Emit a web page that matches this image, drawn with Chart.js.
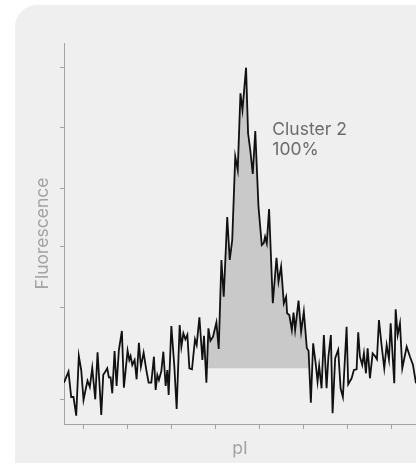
<!DOCTYPE html>
<html lang="en">
  <head>
    <meta charset="utf-8" />
    <title>Fluorescence vs pI</title>
    <script src="https://cdn.jsdelivr.net/npm/chart.js@4.4.0/dist/chart.umd.min.js"></script>
    <style>
      html, body { margin: 0; padding: 0; background: #fff; }
      .card {
        position: absolute; left: 15px; top: 5px;
        width: 430px; height: 458px;
        border-radius: 22px 22px 0 0; background: #efefef;
      }
      #chart { position: absolute; left: 0; top: 0; }
    </style>
  </head>
  <body>
    <div class="card"></div>
    <canvas id="chart" width="416" height="464"></canvas>
    <script>
      // trace: x along pI, y = fluorescence (arbitrary units)
      var xs = [0, 4.5, 7.2, 9.5, 12.2, 14.8, 17.2, 19.5, 21.5, 23.5,
        25.8, 28.2, 31.2, 33.5, 35.5, 37.2, 39.2, 41.5, 43.2, 44.8,
        46.5, 48.2, 50.5, 52.5, 54.8, 57.8, 59.8, 63.5, 65.2, 66.5,
        68.2, 70.5, 72.5, 74.8, 76.8, 79.5, 82.2, 84.5, 87.2, 89.8,
        91.5, 93.2, 94.8, 97.2, 99.2, 101.5, 103.2, 104.5, 107.2, 110.2,
        112.5, 115.5, 117.2, 119.2, 121.2, 123.2, 125.2, 127.8, 130.8, 132.5,
        135.2, 138.2, 139.8, 142.2, 144.2, 146.2, 148.8, 152.2, 154.5, 157.2,
        159.5, 163, 165.5, 168, 171, 173.5, 176.2, 178.2, 181.8, 183.8,
        186, 188.5, 191, 194.2, 197.5, 199.5, 200.8, 202.5, 204.8, 208.5,
        212.2, 214.2, 216.8, 219.5, 221.8, 222.8, 225, 227.5, 229.2, 230.8,
        234.2, 236.8, 239.5, 242.5, 244.2, 246.5, 248.8, 251.5, 253.2, 254.8,
        257.2, 259.5, 262.2, 264, 266.5, 268.2, 270.8, 273.8, 276.2, 278.5,
        282.2, 283.8, 287.2, 289.5, 292.2, 293.8, 295.5, 297.8, 299.5, 301.5,
        303.2, 305.5, 308.2, 310.5, 312.5, 314.5, 317.2, 319.8, 322.2, 324.5,
        326.2, 329.8, 331.2, 333.2, 335.5, 337.8, 342.2, 345.5, 348.5, 351.5];
      var ys = [41.3, 52.3, 27, 27, 8.3, 68, 54, 24, 34, 43.3,
        37, 56, 24.7, 71.7, 39, 9, 49.3, 52.7, 55.7, 46.7,
        46.7, 30.7, 73, 38, 74, 93, 36.3, 73.3, 64, 68,
        59, 64, 44.7, 81.3, 57.3, 71.3, 54, 41.3, 41.3, 67.3,
        34, 49, 44, 53, 72.3, 38, 54, 29, 98, 57.3,
        15, 99, 77.3, 90.7, 84.7, 89.3, 55.7, 54.7, 84.7, 79,
        106.7, 64, 88.3, 41.3, 95.7, 83.3, 87.3, 101.7, 75, 164,
        127.3, 207, 164, 184, 267.5, 254, 330.7, 314, 356.3, 290.7,
        274, 250, 293, 217.3, 179, 181, 187.3, 180.7, 215, 120.7,
        166.3, 142.3, 157.3, 120.7, 127.3, 110.7, 109, 94, 111.3, 94,
        123.3, 92.3, 112.3, 75.7, 73.3, 21.3, 80.7, 59, 42.3, 58,
        35.7, 89, 35.7, 67, 89, 10.7, 65.7, 74, 35.7, 27,
        97.3, 39.7, 45.7, 54, 54.7, 91.7, 67.3, 59, 70.7, 50.7,
        75.7, 45.7, 70.7, 68, 64.7, 104, 78, 55.7, 79, 64.7,
        100.7, 40.7, 114.7, 89, 100.7, 55.7, 77.3, 67.3, 59, 40.7];

      // shaded cluster: from / to on the x axis, and the level it is shaded down to
      var clusterFrom = 142.8;
      var clusterTo = 244.2;
      var clusterBase = 55.7;
      var clusterLabel = ["Cluster 2", "100%"];
      var labelAt = { x: 208, y: 289 };

      var xTicks = [19.8, 63.5, 107.5, 151.5, 195.2, 239.2, 283.2, 327.2];
      var yTicks = [25, 116.5, 177.3, 235.7, 296.3, 356.3];

      var points = xs.map(function (x, i) { return { x: x, y: ys[i] }; });
      var clusterPts = [{ x: clusterFrom, y: clusterBase }].concat(
        points.filter(function (p) { return p.x > clusterFrom && p.x <= clusterTo; })
      );

      var axisGrey = "#a3a3a3";
      var fontFamily = "Inter, 'Liberation Sans', sans-serif";

      const clusterText = {
        id: "clusterText",
        afterDatasetsDraw(chart) {
          const { ctx, scales: { x, y } } = chart;
          ctx.save();
          ctx.font = "17.5px " + fontFamily;
          ctx.fillStyle = "#6b6b6b";
          ctx.textBaseline = "alphabetic";
          ctx.textAlign = "left";
          const px = x.getPixelForValue(labelAt.x);
          const py = y.getPixelForValue(labelAt.y);
          clusterLabel.forEach(function (t, i) {
            ctx.fillText(t, px, py + i * 20);
          });
          ctx.restore();
        },
      };

      new Chart(document.getElementById("chart"), {
        type: "line",
        data: {
          datasets: [
            {
              data: points,
              borderColor: "#111111",
              borderWidth: 1.8,
              pointRadius: 0,
              tension: 0,
              fill: false,
            },
            {
              data: clusterPts,
              borderWidth: 0,
              borderColor: "rgba(0,0,0,0)",
              backgroundColor: "#c9c9c9",
              pointRadius: 0,
              tension: 0,
              fill: { value: clusterBase },
            },
          ],
        },
        options: {
          responsive: false,
          animation: false,
          devicePixelRatio: 1,
          layout: { padding: { top: 43, right: 0, bottom: 0, left: 0 } },
          plugins: { legend: { display: false }, tooltip: { enabled: false } },
          scales: {
            x: {
              type: "linear",
              min: 0,
              max: 351.5,
              afterBuildTicks: function (s) {
                s.ticks = xTicks.map(function (v) { return { value: v }; });
              },
              afterFit: function (s) { s.height = 40; },
              ticks: { display: false },
              grid: { drawOnChartArea: false, color: axisGrey, tickLength: 5 },
              border: { display: true, color: axisGrey, width: 1 },
              title: {
                display: true,
                text: "pI",
                color: "#a3a3a3",
                font: { family: fontFamily, size: 17.5 },
                padding: { top: 0, bottom: 5 },
              },
            },
            y: {
              type: "linear",
              min: 0,
              max: 381,
              afterBuildTicks: function (s) {
                s.ticks = yTicks.map(function (v) { return { value: v }; });
              },
              afterFit: function (s) { s.width = 64; },
              ticks: { display: false },
              grid: { drawOnChartArea: false, color: axisGrey, tickLength: 4 },
              border: { display: true, color: axisGrey, width: 1 },
              title: {
                display: true,
                text: "Fluorescence",
                color: "#a3a3a3",
                font: { family: fontFamily, size: 17.5 },
                padding: { top: 32, bottom: 0 },
              },
            },
          },
        },
        plugins: [clusterText],
      });
    </script>
  </body>
</html>
